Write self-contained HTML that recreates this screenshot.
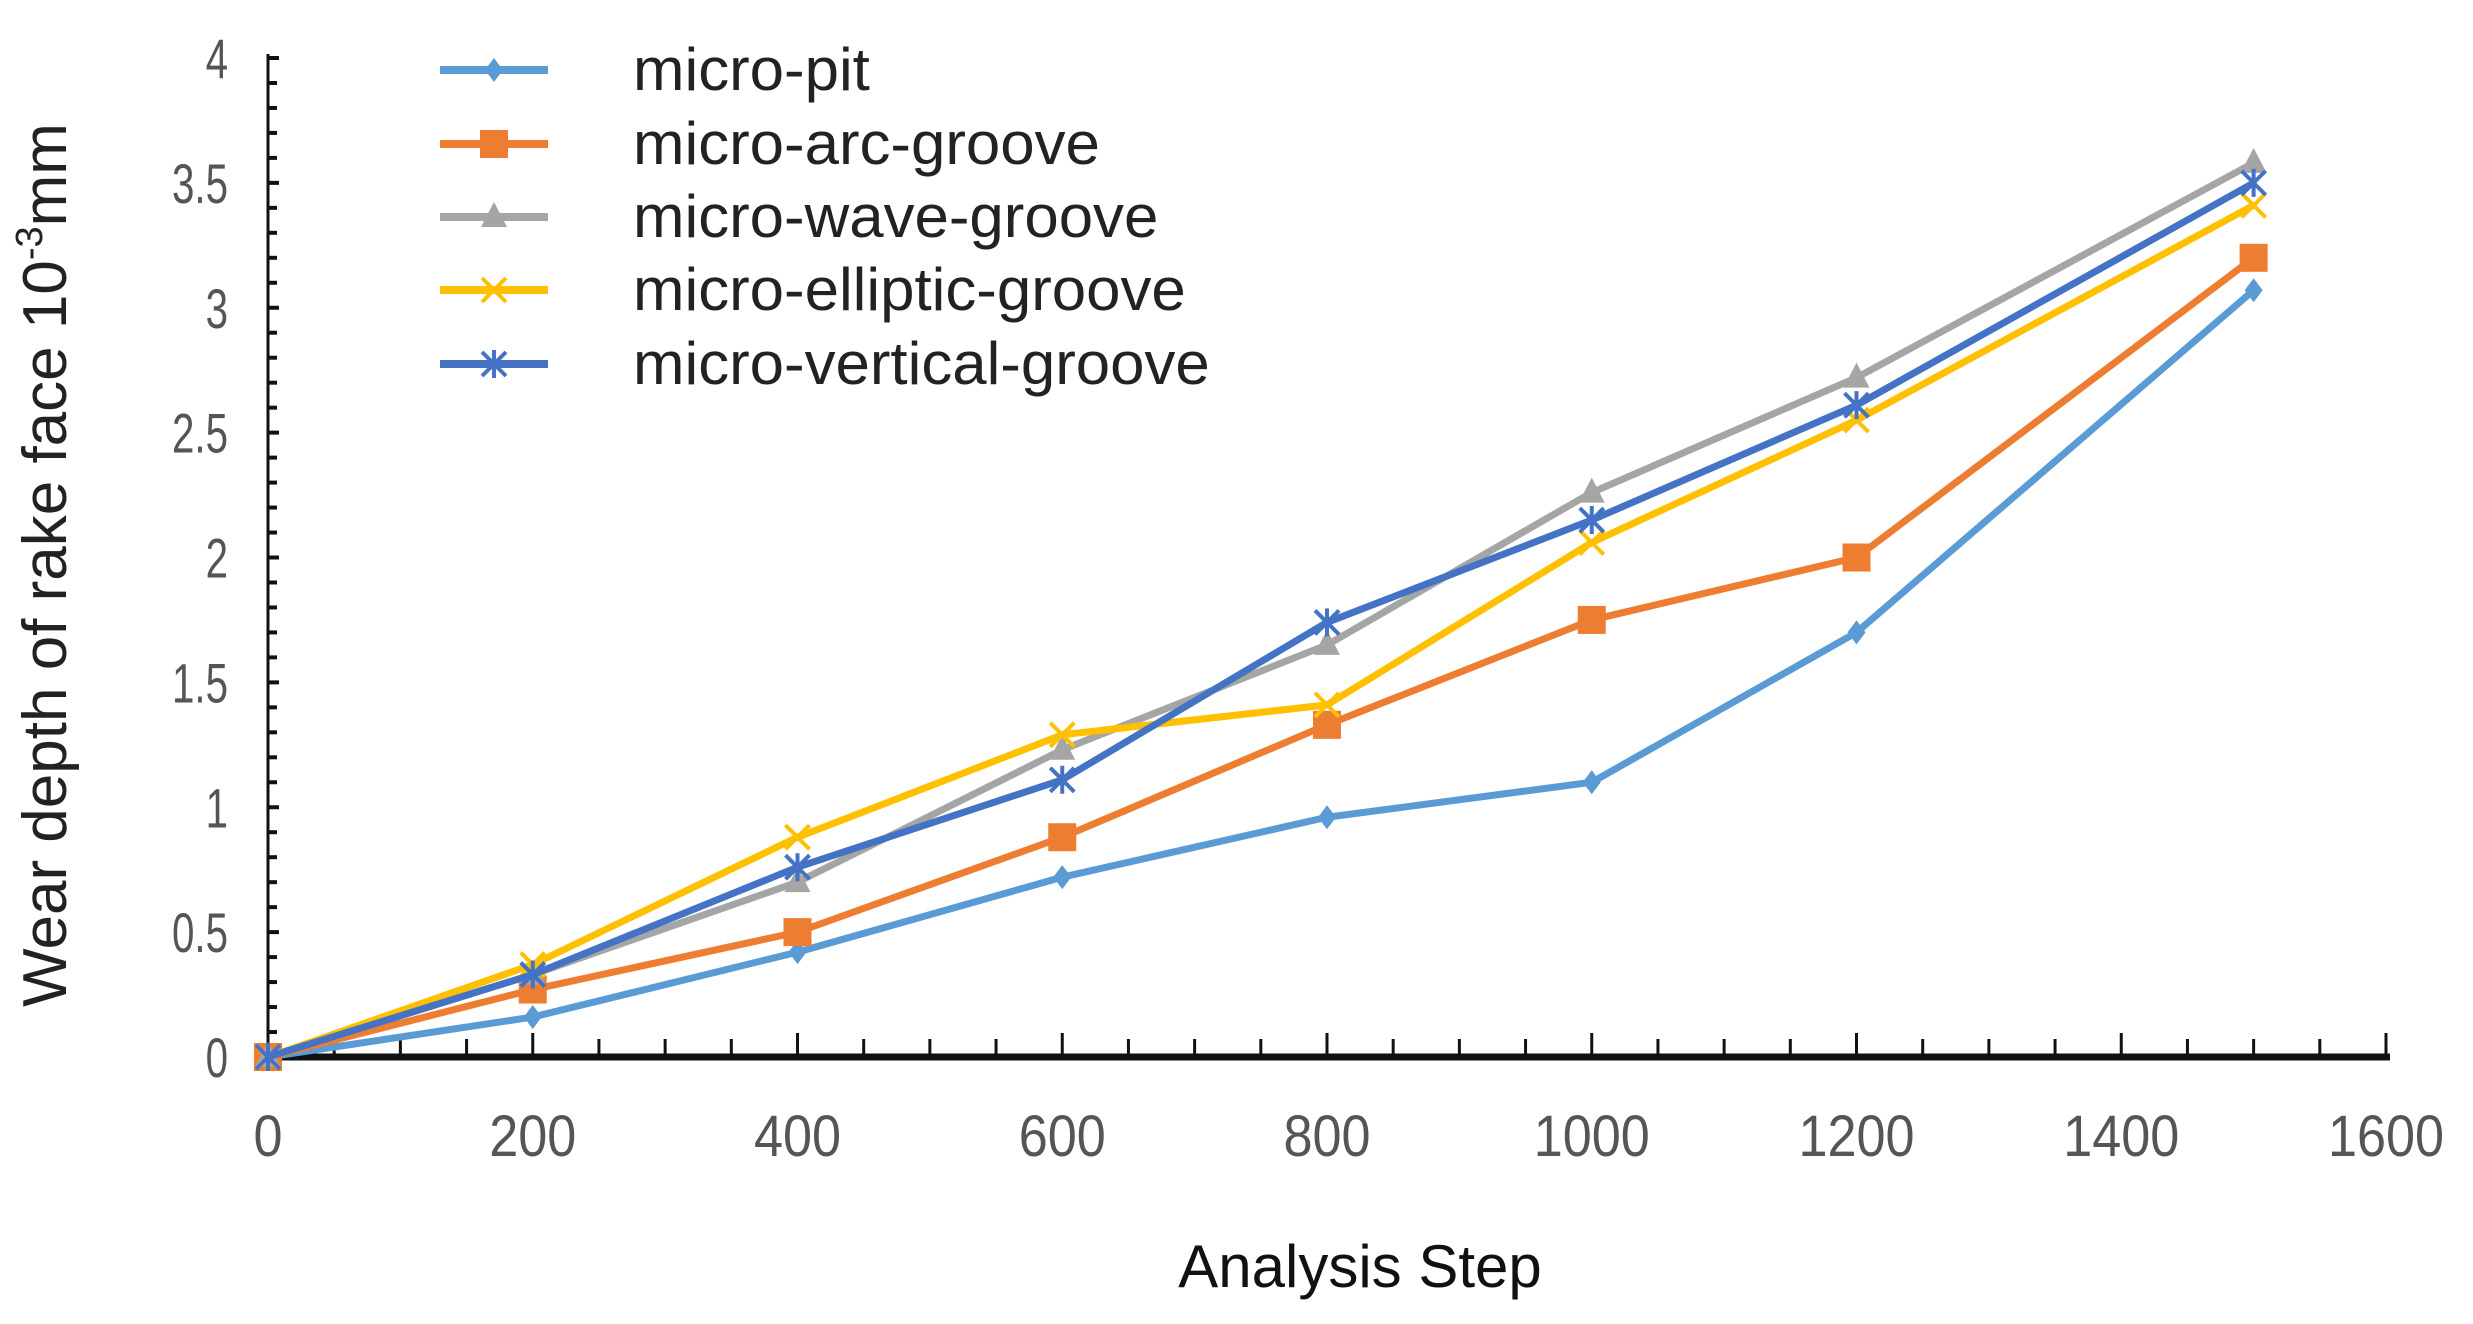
<!DOCTYPE html>
<html><head><meta charset="utf-8"><style>
body{margin:0;background:#fff;}
svg{display:block;font-family:"Liberation Sans",sans-serif;}
</style></head><body>
<svg id="chart" width="2473" height="1324" viewBox="0 0 2473 1324">
<g id="axes"></g>
<g id="series"></g>
<g id="legend"></g>
<text x="66" y="565" transform="rotate(-90 66 565)" text-anchor="middle" font-size="62" fill="#222" font-family="Liberation Sans, sans-serif">Wear depth of rake face 10<tspan font-size="38" dy="-24">-3</tspan><tspan dy="24">mm</tspan></text>
<text x="1360" y="1287" text-anchor="middle" font-size="60" fill="#111" font-family="Liberation Sans, sans-serif">Analysis Step</text>
</svg>
<script>
const xCategories=[0,200,400,600,800,1000,1200,1500];
const seriesNames=["micro-pit","micro-arc-groove","micro-wave-groove","micro-elliptic-groove","micro-vertical-groove"];
const pitValues=[0,0.16,0.42,0.72,0.96,1.1,1.7,3.07];
const arcValues=[0,0.27,0.5,0.88,1.33,1.75,2.0,3.2];
const waveValues=[0,0.33,0.7,1.23,1.65,2.26,2.72,3.58];
const ellipticValues=[0,0.37,0.88,1.29,1.41,2.06,2.55,3.41];
const verticalValues=[0,0.33,0.76,1.11,1.74,2.15,2.61,3.5];
const xTickLabels=[0,200,400,600,800,1000,1200,1400,1600];
const yTickLabels=[0,0.5,1,1.5,2,2.5,3,3.5,4];

const NS="http://www.w3.org/2000/svg";
const X0=268,X1=2386,Y0=1057,Y1=58;
function xs(v){return X0+(v/1600)*(X1-X0);}
function ys(v){return Y0-(v/4)*(Y0-Y1);}
function mk(tag,attrs,parent){const e=document.createElementNS(NS,tag);for(const k in attrs)e.setAttribute(k,attrs[k]);parent.appendChild(e);return e;}
const axes=document.getElementById('axes');
let yl=mk('line',{x1:X0,y1:Y1-4,x2:X0,y2:Y0,stroke:'#111','stroke-width':3},axes);


for(let v=0;v<=40;v++){
  const y=ys(v/10);
  const t=mk('line',{x1:X0,y1:y,x2:X0+(v%5==0?11:9),y2:y,stroke:'#111','stroke-width':4},axes);
  
  
}
yTickLabels.forEach(v=>{
  const t=mk('text',{x:0,y:0,'text-anchor':'end','font-size':56,fill:'#555',transform:`translate(${X0-40},${ys(v)+20}) scale(0.72,1)`},axes);
  t.textContent=String(v);
  
  
});
let xl=mk('line',{x1:X0,y1:Y0,x2:X1+4,y2:Y0,stroke:'#111','stroke-width':7},axes);


for(let v=0;v<=1600;v+=50){
  const x=xs(v);
  const t=mk('line',{x1:x,y1:Y0,x2:x,y2:Y0-(v%200==0?24:18),stroke:'#111','stroke-width':3},axes);
  
  
}
xTickLabels.forEach(v=>{
  const t=mk('text',{x:0,y:0,'text-anchor':'middle','font-size':58,fill:'#555',transform:`translate(${xs(v)},${Y0+99}) scale(0.9,1)`},axes);
  t.textContent=String(v);
  
  
});
const colors=['#5b9bd5','#ed7d31','#a5a5a5','#ffc000','#4472c4'];
const allValues=[pitValues,arcValues,waveValues,ellipticValues,verticalValues];
const markers=['diamond','square','triangle','x','star'];
function marker(g,type,x,y,c){
  let e;
  if(type=='diamond')e=mk('polygon',{points:`${x},${y-12} ${x+9},${y} ${x},${y+12} ${x-9},${y}`,fill:c},g);
  else if(type=='square')e=mk('rect',{x:x-14,y:y-14,width:28,height:28,fill:c},g);
  else if(type=='triangle')e=mk('polygon',{points:`${x},${y-15} ${x+13},${y+10} ${x-13},${y+10}`,fill:c},g);
  else if(type=='x')e=mk('path',{d:`M${x-12},${y-12}L${x+12},${y+12}M${x+12},${y-12}L${x-12},${y+12}`,stroke:c,'stroke-width':4},g);
  else e=mk('path',{d:`M${x-12},${y-12}L${x+12},${y+12}M${x+12},${y-12}L${x-12},${y+12}M${x},${y-14}L${x},${y+14}`,stroke:c,'stroke-width':4},g);
  return e;
}
const sg=document.getElementById('series');
allValues.forEach((vals,i)=>{
  const g=mk('g',{},sg);
  
  
  const pts=vals.map((v,j)=>xs(xCategories[j])+','+ys(v)).join(' ');
  const pl=mk('polyline',{points:pts,fill:'none',stroke:colors[i],'stroke-width':7,'stroke-linejoin':'round'},g);
  
  
  vals.forEach((v,j)=>{
    const m=marker(g,markers[i],xs(xCategories[j]),ys(v),colors[i]);
    
    
  });
});
const lg=document.getElementById('legend');
const rowsY=[70,144,217,290,364];
seriesNames.forEach((n,i)=>{
  const g=mk('g',{},lg);
  
  
  mk('line',{x1:440,y1:rowsY[i],x2:548,y2:rowsY[i],stroke:colors[i],'stroke-width':8},g);
  marker(g,markers[i],494,rowsY[i],colors[i]);
  const t=mk('text',{x:0,y:0,'font-size':60,fill:'#222',transform:`translate(633,${rowsY[i]+20}) scale(1.03,1)`},g);
  t.textContent=n;
});
</script>
</body></html>
